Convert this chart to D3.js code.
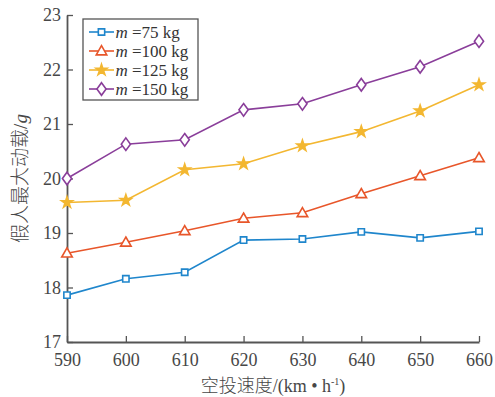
<!DOCTYPE html>
<html>
<head>
<meta charset="utf-8">
<script src="https://cdn.jsdelivr.net/npm/d3@7"></script>
<style>
  html, body { margin: 0; padding: 0; background: #fff; }
  svg { display: block; }
</style>
</head>
<body>
<svg id="chart" width="495" height="397"></svg>
<script>
// Airdrop speed (km/h) on the x axis
const speeds = [590, 600, 610, 620, 630, 640, 650, 660];
// Peak dummy load (g) for each mass
const load75  = [17.86, 18.16, 18.28, 18.87, 18.89, 19.02, 18.91, 19.03];
const load100 = [18.63, 18.83, 19.04, 19.27, 19.37, 19.72, 20.05, 20.38];
const load125 = [19.56, 19.60, 20.16, 20.27, 20.60, 20.86, 21.24, 21.72];
const load150 = [20.00, 20.63, 20.71, 21.26, 21.37, 21.72, 22.05, 22.52];
const seriesLabels = ["75", "100", "125", "150"];
const seriesColors = ["#1f86cc", "#e8562a", "#f3b731", "#8a3e9a"];
const seriesMarkers = ["square", "triangle", "star", "diamond"];
const xTicks = [590, 600, 610, 620, 630, 640, 650, 660];
const yTicks = [17, 18, 19, 20, 21, 22, 23];

const seriesData = [load75, load100, load125, load150];

const svg = d3.select("#chart");
const margin = { left: 67, right: 16, top: 15, bottom: 55 };
const W = 495, H = 397;

const x = d3.scaleLinear().domain([590, 660]).range([margin.left, W - margin.right]);
const y = d3.scaleLinear().domain([17, 23]).range([H - margin.bottom, margin.top]);

const axisColor = "#555";
const textColor = "#474747";
const serif = "'Liberation Serif', 'Times New Roman', serif";

// Axes with inward ticks
const xAxis = svg.append("g")
  .attr("transform", `translate(0,${y(17)})`)
  .call(d3.axisBottom(x).tickValues(xTicks).tickFormat(d3.format("d"))
    .tickSize(-6).tickSizeOuter(0).tickPadding(11));
const yAxis = svg.append("g")
  .attr("transform", `translate(${x(590)},0)`)
  .call(d3.axisLeft(y).tickValues(yTicks).tickFormat(d3.format("d"))
    .tickSize(-6).tickSizeOuter(0).tickPadding(6));

[xAxis, yAxis].forEach(a => {
  a.attr("font-family", null).attr("font-size", null);
  a.select(".domain").attr("stroke", axisColor).attr("stroke-width", 1.8);
  a.selectAll(".tick line").attr("stroke", axisColor).attr("stroke-width", 1.3);
  a.selectAll(".tick text")
    .attr("fill", textColor)
    .attr("font-family", serif)
    .style("font-family", serif)
    .style("font-size", "18px");
});

// Marker symbols
function markerPath(kind) {
  switch (kind) {
    case "square": return d3.symbol(d3.symbolSquare, 40)();
    case "triangle": return d3.symbol(d3.symbolTriangle, 48)();
    case "star": return d3.symbol(d3.symbolStar, 38)();
    case "diamond": {
      const w = 4.6, h = 6.3;
      return `M0,${-h}L${w},0L0,${h}L${-w},0Z`;
    }
  }
}

const line = d3.line().x((d, i) => x(speeds[i])).y(d => y(d));

seriesData.forEach((vals, k) => {
  const g = svg.append("g");
  g.append("path")
    .datum(vals)
    .attr("d", line)
    .attr("fill", "none")
    .attr("stroke", seriesColors[k])
    .attr("stroke-width", 1.6);
  g.selectAll("path.mk")
    .data(vals)
    .join("path")
    .attr("class", "mk")
    .attr("d", markerPath(seriesMarkers[k]))
    .attr("transform", (d, i) => `translate(${x(speeds[i])},${y(d) + (seriesMarkers[k] === "triangle" ? 0.8 : 0)})`)
    .attr("fill", seriesMarkers[k] === "star" ? seriesColors[k] : "#fff")
    .attr("stroke", seriesColors[k])
    .attr("stroke-width", 1.6);
});

// Legend
const lg = svg.append("g");
lg.append("rect")
  .attr("x", 83).attr("y", 19).attr("width", 115).attr("height", 81)
  .attr("fill", "#fff").attr("stroke", "#555").attr("stroke-width", 1.3);
seriesLabels.forEach((lab, k) => {
  const cy = 32 + k * 19;
  lg.append("line")
    .attr("x1", 89).attr("x2", 114).attr("y1", cy).attr("y2", cy)
    .attr("stroke", seriesColors[k]).attr("stroke-width", 1.6);
  lg.append("path")
    .attr("d", markerPath(seriesMarkers[k]))
    .attr("transform", `translate(101.5,${cy + (seriesMarkers[k] === "triangle" ? 0.8 : 0)})`)
    .attr("fill", seriesMarkers[k] === "star" ? seriesColors[k] : "#fff")
    .attr("stroke", seriesColors[k]).attr("stroke-width", 1.6);
  const t = lg.append("text")
    .attr("x", 115.5).attr("y", cy + 5.5)
    .attr("fill", "#333")
    .style("font-family", serif)
    .style("font-size", "17px");
  t.append("tspan").attr("font-style", "italic").text("m");
  t.append("tspan").text(` =${lab} kg`);
});

// Axis titles
const xt = svg.append("text")
  .attr("x", (x(590) + x(660)) / 2).attr("y", 392)
  .attr("text-anchor", "middle")
  .attr("fill", textColor)
  .style("font-size", "18px");
xt.append("tspan").style("font-family", "'Noto Sans CJK SC', sans-serif").style("font-weight", "300").text("空投速度");
xt.append("tspan").style("font-family", serif).text("/(km • h");
xt.append("tspan").style("font-family", serif).style("font-size", "10px").attr("dy", -7).text("-1");
xt.append("tspan").style("font-family", serif).attr("dy", 7).text(")");

const yt = svg.append("text")
  .attr("transform", `translate(27,${(y(17) + y(23)) / 2}) rotate(-90)`)
  .attr("text-anchor", "middle")
  .attr("fill", textColor)
  .style("font-size", "19px");
yt.append("tspan").style("font-family", "'Noto Sans CJK SC', sans-serif").style("font-weight", "300").text("假人最大动载");
yt.append("tspan").style("font-family", serif).text("/");
yt.append("tspan").style("font-family", serif).attr("font-style", "italic").text("g");
</script>
</body>
</html>
